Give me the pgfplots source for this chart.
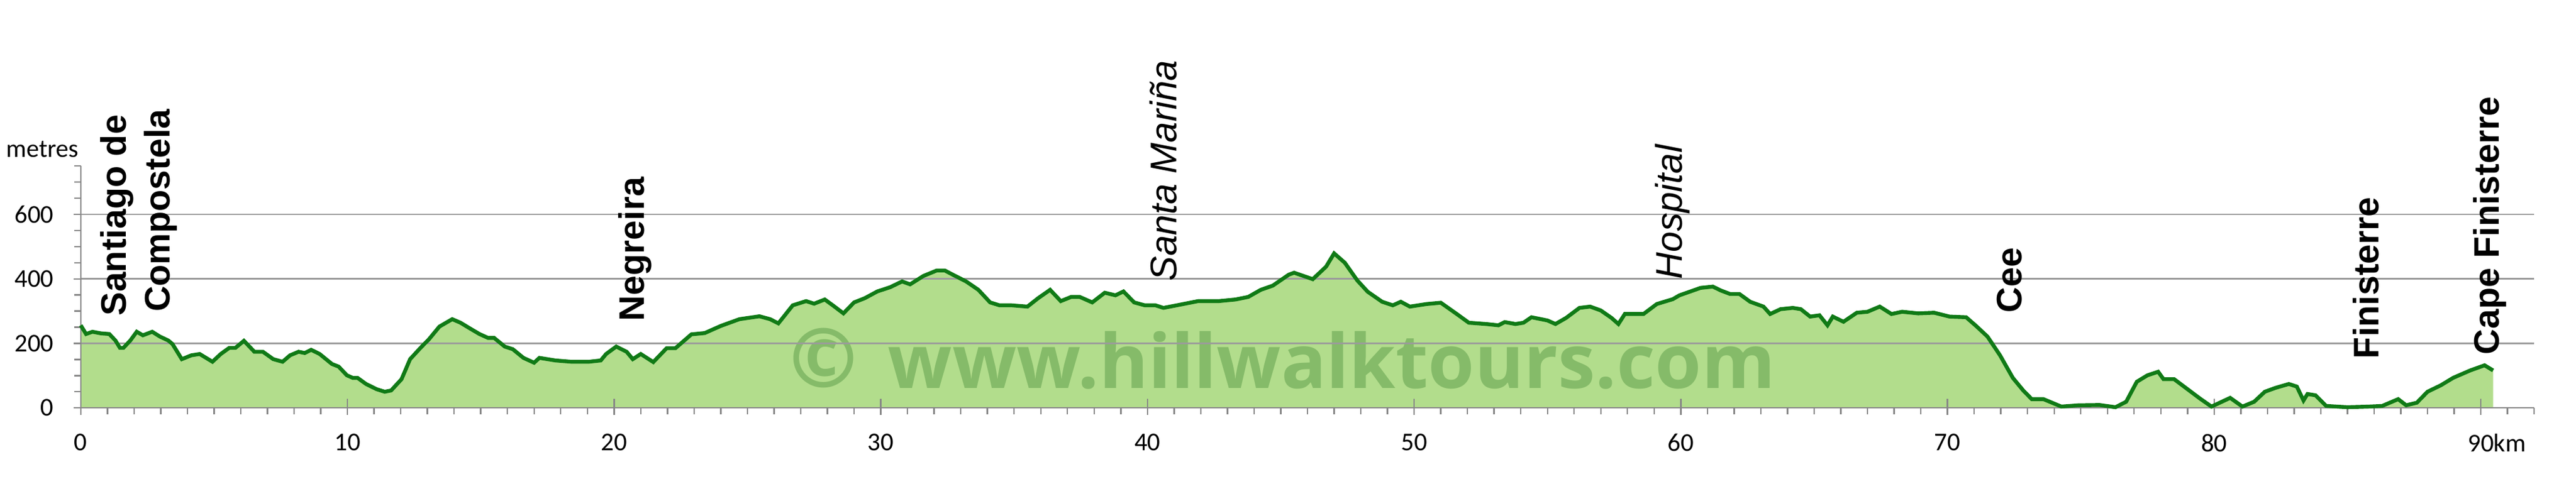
\documentclass[border=0pt]{standalone}
\usepackage{fontspec}
\usepackage{pgfplots}
\usepackage{pgfplotstable}
\pgfplotsset{compat=1.18}
\setmainfont{Liberation Sans}
\newfontfamily\tickfont{Carlito}
\newfontfamily\placefont{Liberation Sans}
\newfontfamily\markfont{Open Sans}

\definecolor{fillgreen}{RGB}{178,221,140}
\definecolor{linegreen}{RGB}{16,122,22}
\definecolor{wmgreen}{RGB}{133,187,105}
\definecolor{gridgray}{RGB}{155,155,155}
\definecolor{tickgray}{RGB}{135,135,135}

% distance (km) and height (m)
\pgfplotstableread{
km elev
0 256
0.2 229
0.44 236
0.76 231
1.07 229
1.3 209
1.47 186
1.6 186
1.86 209
2.1 236
2.33 225
2.68 236
2.97 221
3.28 209
3.44 198
3.79 151
4.15 163
4.46 167
4.7 155
4.94 143
5.25 167
5.57 186
5.8 186
6.12 208
6.51 174
6.83 174
7.22 151
7.57 143
7.85 163
8.17 174
8.4 170
8.64 180
8.96 167
9.42 136
9.67 128
9.98 101
10.2 93
10.38 93
10.7 74
11.09 58
11.4 50
11.64 54
12.03 89
12.35 151
12.74 186
13.06 213
13.45 252
13.93 275
14.24 264
14.56 248
14.95 229
15.27 217
15.5 217
15.9 190
16.2 182
16.6 155
17.0 140
17.2 155
17.8 147
18.4 143
19.05 143
19.5 147
19.7 167
20.08 190
20.47 174
20.7 151
21.0 167
21.47 142
21.97 185
22.3 185
22.9 228
23.4 232
24.0 254
24.7 275
25.45 284
25.85 275
26.16 262
26.7 318
27.2 331
27.5 323
27.9 336
28.2 318
28.6 293
29.0 327
29.4 340
29.87 361
30.35 374
30.8 392
31.1 383
31.6 409
32.1 426
32.4 426
32.7 413
33.2 392
33.66 366
34.1 327
34.45 318
34.9 318
35.5 314
35.9 340
36.35 366
36.75 331
37.14 344
37.46 344
37.93 327
38.4 357
38.8 349
39.1 361
39.5 327
39.9 318
40.3 318
40.6 310
41.1 318
41.9 331
42.67 331
43.3 336
43.78 344
44.25 366
44.7 379
45.3 413
45.5 419
46.2 399
46.7 438
47.0 479
47.4 450
47.87 395
48.26 360
48.8 329
49.2 318
49.5 329
49.84 314
50.47 322
51.0 326
51.6 291
52.05 264
52.7 260
53.16 256
53.4 266
53.8 260
54.1 264
54.4 281
55.0 271
55.3 260
55.7 279
56.2 310
56.6 314
57.0 302
57.4 279
57.66 260
57.9 291
58.6 291
59.1 322
59.7 337
59.95 349
60.74 372
61.2 376
61.5 364
61.85 353
62.2 353
62.6 329
63.1 314
63.35 291
63.74 306
64.2 310
64.5 306
64.85 283
65.2 287
65.5 256
65.7 283
66.1 267
66.6 295
67.0 298
67.46 314
67.9 291
68.3 298
68.9 293
69.5 295
70.08 283
70.7 281
71.1 252
71.5 221
71.97 163
72.45 93
72.84 54
73.16 27
73.6 27
74.27 4
74.9 8
75.7 9
76.3 2
76.7 19
77.1 81
77.5 101
77.9 112
78.1 89
78.5 89
79.0 58
79.5 27
79.9 4
80.6 31
81.06 4
81.5 19
81.9 50
82.3 62
82.8 74
83.1 66
83.35 23
83.5 43
83.8 39
84.2 6
85.0 2
85.8 4
86.3 6
86.9 27
87.2 8
87.6 16
88.0 50
88.5 70
88.96 93
89.6 116
90.14 132
90.46 116
}\profile

\begin{document}
\begin{tikzpicture}
\begin{axis}[
  set layers,
  width=1024.2pt, height=101pt,
  scale only axis,
  xmin=0, xmax=92, ymin=0, ymax=750,
  axis lines*=left,
  axis line style={draw=tickgray, line width=0.6pt},
  clip=false,
  xtick={0,10,20,30,40,50,60,70,80,90},
  xticklabels={0,10,20,30,40,50,60,70,80,90\rlap{km}},
  minor xtick={1,2,...,92},
  ytick={0,200,400,600},
  yticklabels={0,200,400,600},
  minor ytick={50,100,...,750},
  tick align=outside,
  major tick length=2.9pt,
  minor tick length=2.75pt,
  tick style={draw=tickgray, line width=0.6pt},
  ymajorgrids,
  grid style={draw=gridgray, line width=0.65pt},
  extra x ticks={10,20,30,40,50,60,70,80,90},
  extra x tick labels={},
  extra x tick style={tick align=inside, major tick length=3.75pt},
  ticklabel style={font=\tickfont\fontsize{10.7}{12}\selectfont, text=black},
  xticklabel style={inner sep=0pt, yshift=-7.85pt},
  yticklabel style={inner sep=0pt, xshift=-8.2pt},
]

% filled profile, kept below the grid lines
\addplot[on layer=axis background, draw=none, fill=fillgreen] table[x=km, y=elev] {\profile} \closedcycle;

\begin{pgfonlayer}{axis background}
\node[anchor=center, inner sep=0pt, text=wmgreen, font=\markfont\bfseries\fontsize{34}{34}\selectfont] at (axis cs:27.85,154.5) {©};
\node[anchor=base west, inner sep=0pt, text=wmgreen, font=\markfont\bfseries\fontsize{31.3}{34}\selectfont] at (axis cs:30.26,61) {www.hillwalktours.com};
\end{pgfonlayer}

% profile line
\addplot[linegreen, line width=1.6pt] table[x=km, y=elev] {\profile};

% axis title
\node[anchor=base east, inner sep=0pt, font=\tickfont\fontsize{10.6}{12}\selectfont] at (axis cs:-0.06,777) {metres};

% place names
\tikzset{place/.style={rotate=90, anchor=base west, inner sep=0pt, font=\placefont\bfseries\fontsize{14.8}{17}\selectfont},
         placeit/.style={rotate=90, anchor=base west, inner sep=0pt, font=\placefont\itshape\fontsize{15.5}{18}\selectfont}}
\node[place] at (axis cs:1.69,284) {Santiago de};
\node[place] at (axis cs:3.35,296) {Compostela};
\node[place] at (axis cs:21.12,268) {Negreira};
\node[placeit] at (axis cs:41.1,392) {Santa Mariña};
\node[placeit] at (axis cs:60.05,398) {Hospital};
\node[place] at (axis cs:72.78,294) {Cee};
\node[place] at (axis cs:86.17,151) {Finisterre};
\node[place] at (axis cs:90.69,163) {Cape Finisterre};
\end{axis}
\pgfresetboundingbox
\path[use as bounding box] (-33.7pt,-29.7pt) rectangle (1041.55pt,170.3pt);
\end{tikzpicture}
\end{document}
